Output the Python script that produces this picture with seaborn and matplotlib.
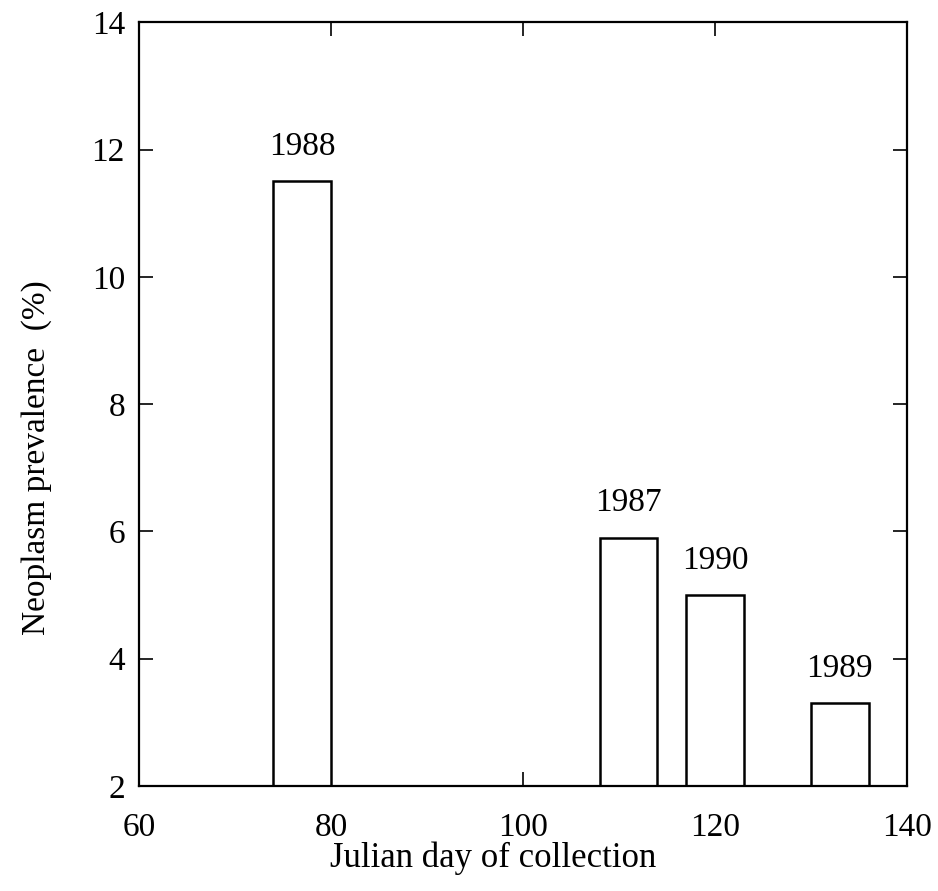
import matplotlib
matplotlib.use("Agg")
import matplotlib.pyplot as plt
import seaborn as sns
import pandas as pd

# Collection day, prevalence and year for each sampling
julian_day = [77, 111, 120, 133]
prevalence = [11.5, 5.9, 5.0, 3.3]
year = ["1988", "1987", "1990", "1989"]

x_ticks = [60, 80, 100, 120, 140]
y_ticks = [2, 4, 6, 8, 10, 12, 14]

df = pd.DataFrame({"day": julian_day, "prev": prevalence, "year": year})

sns.set_style("ticks")
plt.rcParams["font.family"] = ["Liberation Serif", "DejaVu Serif"]
plt.rcParams["text.color"] = "black"

fig = plt.figure(figsize=(9.38, 8.91), dpi=100)
ax = fig.add_axes([0.148, 0.118, 0.819, 0.857])

bar_width_days = 6.0
min_gap = min(b - a for a, b in zip(sorted(julian_day), sorted(julian_day)[1:]))
sns.barplot(data=df, x="day", y="prev", native_scale=True,
            width=bar_width_days / min_gap, color="white",
            edgecolor="black", linewidth=1.8, ax=ax, errorbar=None)

for d, p, yr in zip(julian_day, prevalence, year):
    ax.annotate(yr, (d, p), xytext=(0, 19), textcoords="offset points",
                ha="center", va="baseline", fontsize=24, color="black")

ax.set_xlim(60, 140)
ax.set_ylim(2, 14)
ax.set_xticks(x_ticks)
ax.set_yticks(y_ticks)
ax.set_xticklabels([str(v) for v in x_ticks])
ax.set_yticklabels([str(v) for v in y_ticks])

for s in ax.spines.values():
    s.set_visible(True)
    s.set_linewidth(1.6)
    s.set_color("black")

ax.tick_params(direction="in", top=True, right=True, length=10, width=1.2,
               labelsize=24, colors="black")
ax.tick_params(axis="x", pad=19)
ax.tick_params(axis="y", pad=10)

ax.set_xlabel("Julian day of collection", fontsize=25, color="black")
ax.set_ylabel("Neoplasm prevalence  (%)", fontsize=24, color="black")
ax.xaxis.set_label_coords(0.461, -0.073)
ax.yaxis.set_label_coords(-0.113, 0.43)

fig.savefig("out.png", dpi=100)
